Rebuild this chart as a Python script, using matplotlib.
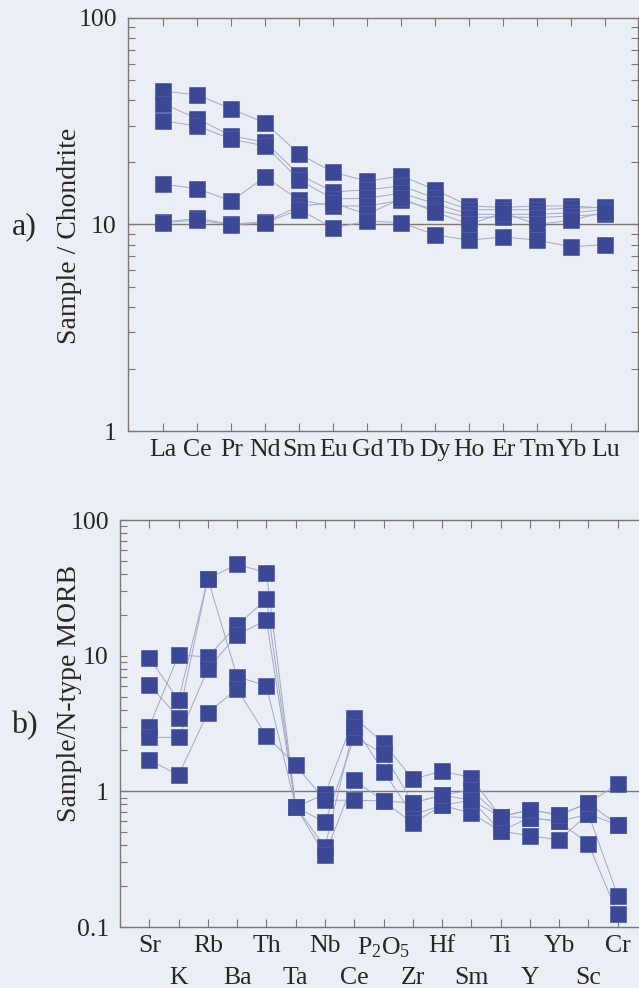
# Chondrite- and N-MORB-normalised spider diagrams (two stacked panels, log scale)

import matplotlib
matplotlib.use('Agg')
import matplotlib.pyplot as plt
from matplotlib.ticker import FixedLocator, NullFormatter

plt.rcParams['font.family'] = 'Liberation Serif'
plt.rcParams['mathtext.fontset'] = 'custom'
plt.rcParams['mathtext.rm'] = 'Liberation Serif'
plt.rcParams['mathtext.it'] = 'Liberation Serif:italic'

# Data - panel a (REE / chondrite)
ree = ['La', 'Ce', 'Pr', 'Nd', 'Sm', 'Eu', 'Gd', 'Tb', 'Dy', 'Ho', 'Er', 'Tm', 'Yb', 'Lu']
ree_a = [44.3, 42.4, 36.3, 31.0, 21.9, 17.9, 16.2, 17.2, 14.7, 12.3, 12.1, 12.3, 12.3, 12.0]
ree_b = [38.5, 32.5, 26.9, 25.0, 17.4, 14.4, 14.7, 15.4, 13.4, 11.8, 11.8, 11.8, 12.0, 12.1]
ree_c = [31.7, 30.0, 25.9, 24.0, 16.4, 13.3, 13.4, 14.2, 12.6, 11.2, 11.2, 11.2, 11.4, 11.8]
ree_d = [15.7, 14.9, 13.0, 17.0, 13.1, 12.3, 12.3, 13.1, 11.8, 10.8, 10.9, 10.8, 11.0, 11.2]
ree_e = [10.3, 10.7, 10.05, 10.3, 12.3, 12.7, 11.2, 13.4, 11.5, 10.0, 11.4, 10.0, 10.5, 11.5]
ree_f = [10.2, 10.5, 9.95, 10.2, 11.8, 9.6, 10.4, 10.2, 8.9, 8.4, 8.7, 8.4, 7.8, 8.0]

# Data - panel b (multi-element / N-MORB)
elems = ['Sr', 'K', 'Rb', 'Ba', 'Th', 'Ta', 'Nb', 'Ce', 'P$_2$O$_5$', 'Zr',
         'Hf', 'Sm', 'Ti', 'Y', 'Yb', 'Sc', 'Cr']
morb_1 = [9.6, 4.7, 37, 47, 41, 0.77, 0.95, 3.5, 2.27, 1.23, 1.41, 1.26, 0.65, 0.73, 0.67, 0.82, 1.13]
morb_2 = [6.1, 3.5, 37, 7.0, 6.0, 0.77, 0.59, 2.5, 1.9, 0.82, 0.94, 1.02, 0.65, 0.64, 0.60, 0.68, 0.17]
morb_3 = [3.0, 10.1, 9.8, 16.8, 26, 0.77, 0.39, 3.0, 1.4, 0.67, 0.79, 0.86, 0.51, 0.64, 0.60, 0.41, 0.125]
morb_4 = [2.5, 2.5, 8.0, 14.2, 18.3, 0.77, 0.34, 1.21, 0.85, 0.58, 0.79, 0.69, 0.51, 0.47, 0.44, 0.68, 0.565]
morb_5 = [1.7, 1.32, 3.8, 5.7, 2.56, 1.56, 0.86, 0.86, 0.85, 0.82, 0.94, 0.86, 0.65, 0.73, 0.67, 0.82, 0.565]

bg = '#eaeef5'
frame = '#807676'
txt = '#2a2626'
sq = '#3a4896'
link = '#a3a8c6'

fig = plt.figure(figsize=(6.39, 9.88), dpi=100, facecolor=bg)
W, H = 639, 988


def style(ax, ylim):
    ax.set_facecolor('none')
    ax.set_yscale('log')
    ax.set_ylim(*ylim)
    for s in ax.spines.values():
        s.set_color(frame)
        s.set_linewidth(1.0)
    ax.tick_params(axis='y', which='both', direction='in', left=True, right=True,
                   length=5, width=0.8, color=frame, labelsize=18.5,
                   labelcolor=txt, pad=8)
    ax.tick_params(axis='x', which='both', direction='in', top=True, bottom=True,
                   length=6, width=0.8, color=frame, labelsize=18.5,
                   labelcolor=txt, pad=6)
    ax.yaxis.set_minor_formatter(NullFormatter())


def draw(ax, x, series):
    for s in series:
        ax.plot(x, s, '-', color=link, lw=0.7, zorder=2)
    for s in series:
        ax.plot(x, s, 's', ls='none', ms=12.2, color=sq, mec='#4d5aa6',
                mew=0.5, zorder=3)


# Panel a
ax1 = fig.add_axes([128 / W, 1 - 431 / H, 510 / W, 413 / H])
xa = list(range(len(ree)))
style(ax1, (1, 100))
ax1.axhline(10, color=frame, lw=1.0, zorder=1)
draw(ax1, xa, [ree_a, ree_b, ree_c, ree_d, ree_e, ree_f])
ax1.set_xlim(-1.04, 13.96)
ax1.set_xticks(xa)
ax1.set_xticklabels(ree)
ax1.set_yticks([1, 10, 100])
ax1.set_yticklabels(['1', '10', '100'])

fig.text(70 / W, 1 - 236 / H, 'Sample / Chondrite', rotation=90, ha='center',
         va='center', fontsize=20, color=txt)
fig.text(24 / W, 1 - 227 / H, 'a)', ha='center', va='center', fontsize=23, color=txt)

# Panel b
ax2 = fig.add_axes([120 / W, 1 - 927 / H, 527 / W, 407 / H])
xb = list(range(len(elems)))
style(ax2, (0.1, 100))
ax2.axhline(1, color=frame, lw=1.0, zorder=1)
draw(ax2, xb, [morb_1, morb_2, morb_3, morb_4, morb_5])
ax2.set_xlim(-1, 17)
ax2.xaxis.set_major_locator(FixedLocator(xb[0::2]))
ax2.xaxis.set_minor_locator(FixedLocator(xb[1::2]))
ax2.set_xticklabels(elems[0::2])
ax2.set_xticklabels(elems[1::2], minor=True)
ax2.tick_params(axis='x', which='minor', pad=29)
ax2.set_yticks([0.1, 1, 10, 100])
ax2.set_yticklabels(['0.1', '1', '10', '100'])

fig.text(69 / W, 1 - 693 / H, 'Sample/N-type MORB', rotation=90, ha='center',
         va='center', fontsize=20, color=txt)
fig.text(24 / W, 1 - 726 / H, 'b)', ha='center', va='center', fontsize=23, color=txt)

fig.savefig('out.png', dpi=100, facecolor=bg)
